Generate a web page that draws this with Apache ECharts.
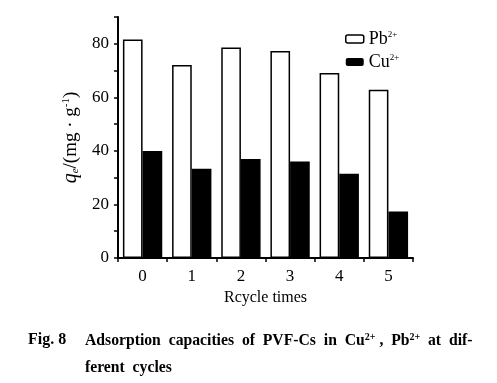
<!DOCTYPE html>
<html><head><meta charset="utf-8">
<script src="https://cdn.jsdelivr.net/npm/echarts@6/dist/echarts.min.js"></script>
<style>html,body{margin:0;padding:0;background:#fff}#c{width:497px;height:383px}</style>
</head><body><div id="c"></div>
<script>
const categories = ['0','1','2','3','4','5'];
const pbValues = [81.6, 72.1, 78.6, 77.3, 69.1, 62.8];
const cuValues = [40.0, 33.3, 37.0, 36.0, 31.5, 17.4];
const yTickLabels = [0, 20, 40, 60, 80];

const F = '"Liberation Serif","Times New Roman",serif';
const chart = echarts.init(document.getElementById('c'));
chart.setOption({
  animation: false,
  backgroundColor: '#fff',
  textStyle: {fontFamily: F, color: '#000'},
  grid: {left: 118, right: 84, top: 17, bottom: 125},
  legend: {
    left: 345, top: 30, padding: 0, orient: 'vertical', itemWidth: 18, itemHeight: 8, itemGap: 5,
    textStyle: {fontFamily: F, fontSize: 18, color: '#000',
      rich: {b: {fontFamily: F, fontSize: 18}, s: {fontFamily: F, fontSize: 9, verticalAlign: 'top', padding: [0,0,9,0]}}},
    formatter: n => n === 'Pb' ? '{b|Pb}{s|2+}' : '{b|Cu}{s|2+}',
    data: [{name: 'Pb', itemStyle: {color: '#fff', borderColor: '#000', borderWidth: 1.5}}, {name: 'Cu'}]
  },
  xAxis: {
    type: 'category', data: categories,
    name: 'Rcycle times', nameLocation: 'middle', nameGap: 30,
    nameTextStyle: {fontFamily: F, fontSize: 16, color: '#000'},
    axisLine: {lineStyle: {color: '#000', width: 2}},
    axisTick: {show: true, length: 4, lineStyle: {color: '#000', width: 1.5}},
    axisLabel: {fontFamily: F, fontSize: 17, color: '#000', margin: 10}
  },
  yAxis: {
    type: 'value', min: 0, max: 90, interval: 10,
    name: '{i|q}{sub|e}{t|/(mg · g}{sup|-1}{t|)}', nameLocation: 'middle', nameGap: 31, nameRotate: 90,
    nameTextStyle: {fontFamily: F, fontSize: 19, color: '#000',
      rich: {i: {fontFamily: F, fontStyle: 'italic', fontSize: 20},
             sub: {fontFamily: F, fontStyle: 'italic', fontSize: 11, verticalAlign: 'bottom', padding: [9,0,0,0]},
             t: {fontFamily: F, fontSize: 19},
             sup: {fontFamily: F, fontSize: 11, verticalAlign: 'top', padding: [0,0,9,0]}}},
    axisLine: {show: true, lineStyle: {color: '#000', width: 2}},
    axisTick: {show: true, length: 4, lineStyle: {color: '#000', width: 1.5}},
    splitLine: {show: false},
    axisLabel: {fontFamily: F, fontSize: 17, color: '#000', margin: 9,
      formatter: v => yTickLabels.includes(v) ? String(v) : ''}
  },
  series: [
    {name: 'Pb', type: 'bar', data: pbValues, barGap: '0%', barCategoryGap: '20%',
     itemStyle: {color: '#fff', borderColor: '#000', borderWidth: 1.5}},
    {name: 'Cu', type: 'bar', data: cuValues, itemStyle: {color: '#000'}}
  ],
  graphic: [
    {type: 'text', left: 28, top: 332, style: {text: 'Fig. 8', font: 'bold 16px ' + F, fill: '#000'}},
    {type: 'text', left: 85, top: 332, style: {
      text: '{b|Adsorption  capacities  of  PVF-Cs  in  Cu}{s|2+}{b| ,  Pb}{s|2+}{b|  at  dif-}',
      rich: {b: {font: 'bold 15.7px ' + F, fill: '#000'}, s: {font: 'bold 10px ' + F, fill: '#000', verticalAlign: 'top', padding: [0,0,7,0]}}}},
    {type: 'text', left: 85, top: 360, style: {text: 'ferent  cycles', font: 'bold 15.7px ' + F, fill: '#000'}}
  ]
});
</script></body></html>
